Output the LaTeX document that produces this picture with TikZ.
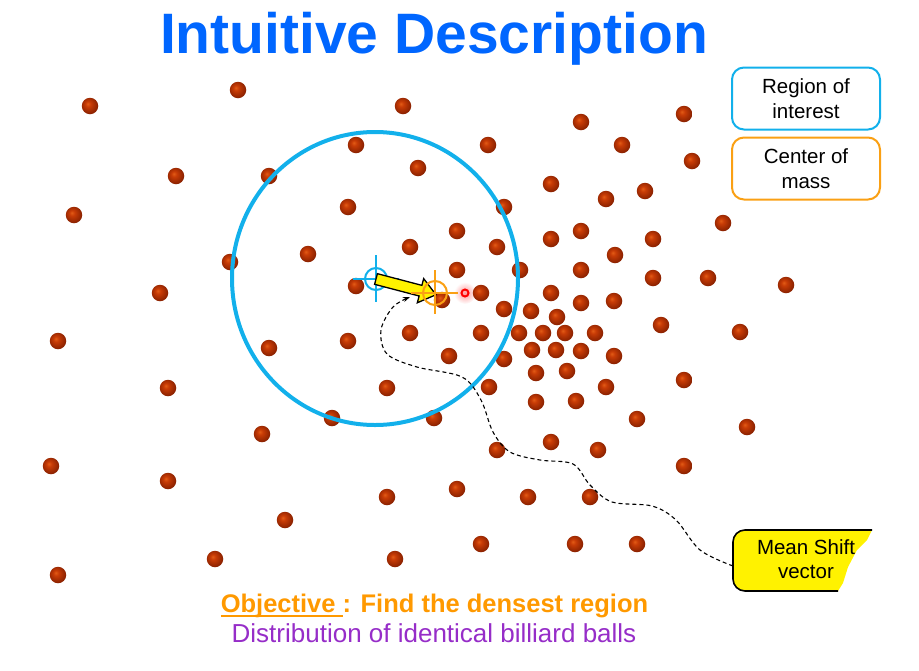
\documentclass[tikz,border=0pt]{standalone}
\usepackage{fontspec}
\setmainfont{Liberation Sans}
\usetikzlibrary{arrows.meta,calc}

\definecolor{titleblue}{RGB}{0,102,255}
\definecolor{roicyan}{RGB}{18,176,235}
\definecolor{comorange}{RGB}{250,160,20}
\definecolor{objorange}{RGB}{255,153,0}
\definecolor{distpurple}{RGB}{150,45,200}
\definecolor{ballhi}{RGB}{226,92,22}
\definecolor{ballmid}{RGB}{200,60,6}
\definecolor{balldark}{RGB}{135,32,0}
\pgfdeclareradialshading{billiard}{\pgfpoint{-7bp}{7bp}}{color(0bp)=(ballhi); color(8bp)=(ballmid); color(28bp)=(balldark); color(50bp)=(balldark)}
\newcommand\objline[1]{\setbox0=\hbox{#1}\rlap{\rule[-4.5pt]{\wd0}{1.8pt}}\box0}

\begin{document}
\begin{tikzpicture}[x=1pt, y=-1pt,
  ball/.style={circle,shading=billiard,minimum size=16.5pt,inner sep=0pt},
  legend/.style={draw,rounded corners=12pt,line width=2pt,minimum width=148pt,
    minimum height=62pt,align=center,font=\fontsize{20.5}{24.5}\selectfont},
  cross/.style={line width=2pt}]
  \useasboundingbox (0,0) rectangle (919,670);
  \node[anchor=base,text=titleblue,font=\fontsize{57}{60}\selectfont\bfseries] (title) at (434,53) {Intuitive Description};
  \coordinate (roi) at (376,279);
  \coordinate (com) at (435,293);
  \coordinate (dot) at (465,293);
  % glow of the density peak
  \shade[inner color=red!40,outer color=white] (dot) circle[radius=11pt];
  % billiard balls
  \foreach \x/\y [count=\i] in {90/106,238/90,403/106,581/122,684/114,356/145,488/145,622/145,692/161,
    176/176,269/176,418/168,551/184,606/199,645/191,74/215,348/207,504/207,723/223,
    457/231,410/247,497/247,551/239,581/231,653/239,308/254,230/262,615/255,
    457/270,520/270,581/270,653/278,708/278,786/285,356/286,160/293,442/300,481/293,551/293,
    504/309,531/311,557/317,581/303,614/301,410/333,481/333,519/333,543/333,565/333,595/333,661/325,740/332,
    58/341,269/348,348/341,449/356,504/359,532/350,556/350,581/351,614/356,
    536/373,567/371,684/380,168/388,387/388,489/387,606/387,536/402,576/401,
    332/418,434/418,637/419,747/427,262/434,551/442,497/450,598/450,51/466,684/466,
    168/481,387/497,457/489,528/497,590/497,285/520,481/544,575/544,637/544,215/559,395/559,58/575}
    \node[ball] (b\i) at (\x,\y) {};
  % region of interest
  \draw[roicyan,line width=4pt] (375,278.5) ellipse[x radius=143pt,y radius=146.5pt];
  \draw[red,line width=2pt] (dot) circle[radius=3.5pt];
  \draw[roicyan,cross] (roi) circle[radius=11pt];
  \draw[roicyan,cross] ($(roi)+(-23,0)$) -- ($(roi)+(23,0)$);
  \draw[roicyan,cross] ($(roi)+(0,-24)$) -- ($(roi)+(0,23)$);
  % mean shift vector
  \begin{scope}[shift={(roi)},rotate=-14.7]
    \draw[fill=yellow,line width=1.3pt,line join=miter] (0,-5.5) -- (46,-5.5) -- (46,-12.5) -- (62,0)
      -- (46,12.5) -- (46,5.5) -- (0,5.5) -- cycle;
  \end{scope}
  \draw[comorange,cross] (com) circle[radius=12pt];
  \draw[comorange,cross] ($(com)+(-24,0)$) -- ($(com)+(23,0)$);
  \draw[comorange,cross] ($(com)+(0,-23)$) -- ($(com)+(0,21)$);
  % legend
  \node[legend,draw=roicyan] (roibox) at (806,98.5) {Region of\\interest};
  \node[legend,draw=comorange] (combox) at (806,168.5) {Center of\\mass};
  % callout
  \fill[yellow] (872,530) [rounded corners=12pt] -- (733,530) -- (733,591) [sharp corners] -- (838,591)
    -- (843,583) -- (848,567) -- (857,550) -- (867,540) -- cycle;
  \draw[line width=1.6pt,rounded corners=12pt] (872,530) -- (733,530) -- (733,591) -- (838,591);
  \node[align=center,font=\fontsize{20.5}{24}\selectfont] (msv) at (806,559) {Mean Shift\\vector};
  \coordinate (msin) at (733,566);
  \draw[dash pattern=on 4pt off 3pt,line width=1.1pt,-{Stealth[length=7pt,width=5pt]}]
    plot[smooth,tension=0.55] coordinates {(msin) (700,550) (676,520) (652,506) (612,502) (590,485)
      (573,464) (540,460) (510,452) (493,432) (481,400) (462,377) (417,367) (387,354) (381,330)
      (393,307) (410,297)};
  % captions
  \node[anchor=base,text=objorange,font=\fontsize{25.5}{28}\selectfont\bfseries] (obj) at (434.5,612)
    {\objline{Objective\ }: Find the densest region};
  \node[anchor=base,text=distpurple,font=\fontsize{26}{28}\selectfont] (dist) at (434,642)
    {Distribution of identical billiard balls};
\end{tikzpicture}
\end{document}
